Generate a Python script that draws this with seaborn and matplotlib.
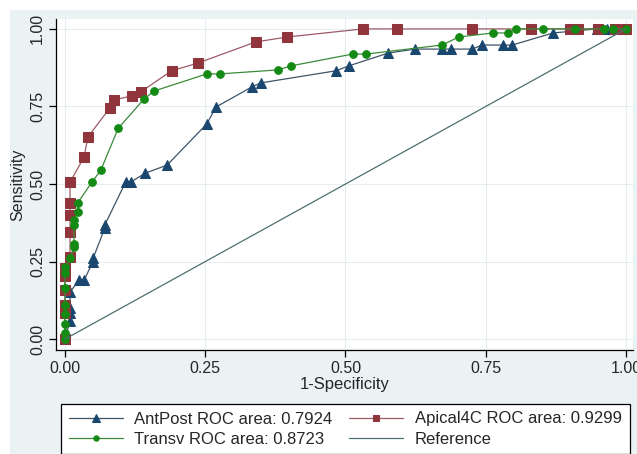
import matplotlib
matplotlib.use("Agg")
import matplotlib.pyplot as plt
import matplotlib.patches as mpatches
import seaborn as sns

# ROC points: (1-specificity, sensitivity)
antpost_fpr = [0, 0.009, 0.009, 0.009, 0.009, 0.025, 0.034, 0.05, 0.05, 0.071, 0.071,
               0.108, 0.117, 0.143, 0.182, 0.253, 0.269, 0.333, 0.349, 0.483, 0.506,
               0.576, 0.624, 0.672, 0.688, 0.726, 0.743, 0.781, 0.797, 0.87, 0.948,
               0.966, 0.98, 1.0]
antpost_tpr = [0, 0.06, 0.085, 0.10, 0.152, 0.19, 0.19, 0.25, 0.26, 0.358, 0.368,
               0.506, 0.506, 0.535, 0.561, 0.694, 0.748, 0.813, 0.826, 0.865, 0.881,
               0.922, 0.935, 0.935, 0.935, 0.935, 0.948, 0.948, 0.948, 0.987, 1.0,
               1.0, 1.0, 1.0]

apical_fpr = [0, 0, 0, 0, 0, 0, 0.009, 0.009, 0.009, 0.009, 0.009, 0.034, 0.041,
              0.080, 0.087, 0.119, 0.135, 0.19, 0.237, 0.34, 0.396, 0.531, 0.592,
              0.725, 0.83, 0.90, 0.915, 0.95, 0.98, 1.0]
apical_tpr = [0, 0.085, 0.11, 0.16, 0.205, 0.23, 0.265, 0.345, 0.40, 0.44, 0.506,
              0.587, 0.652, 0.745, 0.771, 0.784, 0.797, 0.865, 0.89, 0.958, 0.974,
              1, 1, 1, 1, 1, 1, 1, 1, 1]

transv_fpr = [0, 0, 0, 0, 0, 0, 0, 0, 0.009, 0.016, 0.016, 0.016, 0.016, 0.023, 0.023,
              0.048, 0.064, 0.095, 0.141, 0.159, 0.253, 0.276, 0.38, 0.403, 0.513,
              0.537, 0.672, 0.702, 0.763, 0.79, 0.804, 0.852, 0.909, 0.96, 0.977, 1.0]
transv_tpr = [0, 0.02, 0.05, 0.08, 0.11, 0.164, 0.213, 0.232, 0.26, 0.297, 0.306,
              0.368, 0.384, 0.41, 0.44, 0.506, 0.545, 0.68, 0.774, 0.80, 0.855, 0.855,
              0.868, 0.881, 0.919, 0.919, 0.948, 0.974, 0.987, 0.987, 1, 1, 1, 1, 1, 1]

ref_x = [0, 1]
ref_y = [0, 1]

labels = ["AntPost ROC area: 0.7924", "Apical4C ROC area: 0.9299",
          "Transv ROC area: 0.8723", "Reference"]
ticks = [0, 0.25, 0.5, 0.75, 1.0]
tick_labels = ["0.00", "0.25", "0.50", "0.75", "1.00"]

bg = "#EAF2F3"
sns.set_style("white")
plt.rcParams["font.family"] = ["Liberation Sans", "DejaVu Sans"]

fig = plt.figure(figsize=(6.37, 4.54), dpi=100, facecolor=bg)
# white margin on top and left, as in the screenshot
fig.patches.append(mpatches.Rectangle((0, 1 - 10 / 454), 1, 10 / 454, transform=fig.transFigure,
                                      facecolor="white", edgecolor="none", zorder=0))
fig.patches.append(mpatches.Rectangle((0, 0), 10 / 637, 1, transform=fig.transFigure,
                                      facecolor="white", edgecolor="none", zorder=0))
ax = fig.add_axes([56 / 637, 104 / 454, 577 / 637, 331 / 454])
ax.set_facecolor("white")

navy = "#1A476F"
maroon = "#90353B"
green = "#138A13"

sns.lineplot(x=antpost_fpr, y=antpost_tpr, sort=False, estimator=None, ax=ax,
             color="#3E5468", lw=0.9, marker="^", markersize=7.5, markerfacecolor=navy,
             markeredgecolor=navy, label=labels[0])
sns.lineplot(x=apical_fpr, y=apical_tpr, sort=False, estimator=None, ax=ax,
             color="#9C5A66", lw=0.9, marker="s", markersize=7, markerfacecolor=maroon,
             markeredgecolor=maroon, label=labels[1])
sns.lineplot(x=transv_fpr, y=transv_tpr, sort=False, estimator=None, ax=ax,
             color="#3A8A3A", lw=0.9, marker="o", markersize=5.5, markerfacecolor=green,
             markeredgecolor=green, label=labels[2])
sns.lineplot(x=ref_x, y=ref_y, sort=False, estimator=None, ax=ax,
             color="#4F6F6F", lw=0.9, label=labels[3])

ax.set_xlim(-0.016, 1.0125)
ax.set_ylim(-0.035, 1.032)
ax.set_xticks(ticks)
ax.set_xticklabels(tick_labels)
ax.set_yticks(ticks)
ax.set_yticklabels(tick_labels, rotation=90, va="center")
ax.grid(True, color="#E6EDEE", lw=0.8)
ax.set_axisbelow(True)
for s in ["top", "right"]:
    ax.spines[s].set_visible(False)
for s in ["left", "bottom"]:
    ax.spines[s].set_color("black")
    ax.spines[s].set_linewidth(0.9)
ax.tick_params(direction="out", length=5, width=0.9, color="black", labelsize=11.5,
               left=True, bottom=True, pad=3)
ax.set_xlabel("1-Specificity", fontsize=12, labelpad=1)
ax.set_ylabel("Sensitivity", fontsize=11.5, labelpad=3)

h, l = ax.get_legend_handles_labels()
ax.get_legend().remove()
order = [0, 2, 1, 3]
leg = fig.legend([h[i] for i in order], [l[i] for i in order], ncol=2,
                 loc="upper left", bbox_to_anchor=(61 / 637, 1 - 404 / 454),
                 borderaxespad=0, fontsize=12, frameon=True, fancybox=False,
                 edgecolor="black", framealpha=1, handlelength=3.25, borderpad=0.45,
                 labelspacing=0.3, columnspacing=1.0, handletextpad=0.7,
                 markerscale=0.7)
leg.get_frame().set_linewidth(0.9)

fig.savefig("out.png", dpi=100, facecolor=bg)
